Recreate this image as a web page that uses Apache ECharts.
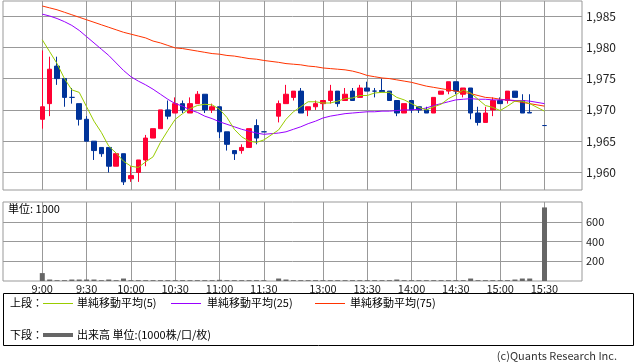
<!DOCTYPE html>
<html><head><meta charset="utf-8">
<script src="https://cdn.jsdelivr.net/npm/echarts@6/dist/echarts.min.js"></script>
<style>html,body{margin:0;padding:0;background:#fff}#c{width:638px;height:362px}</style>
</head><body><div id="c"></div>
<script>
const times = ['9:00','9:05','9:10','9:15','9:20','9:25','9:30','9:35','9:40','9:45','9:50','9:55',
 '10:00','10:05','10:10','10:15','10:20','10:25','10:30','10:35','10:40','10:45','10:50','10:55',
 '11:00','11:05','11:10','11:15','11:20','11:25','11:30','',
 '12:30','12:35','12:40','12:45','12:50','12:55',
 '13:00','13:05','13:10','13:15','13:20','13:25','13:30','13:35','13:40','13:45','13:50','13:55',
 '14:00','14:05','14:10','14:15','14:20','14:25','14:30','14:35','14:40','14:45','14:50','14:55',
 '15:00','15:05','15:10','15:15','15:20','15:25','15:30'];
const opens = [1968.5,1971,1977,1975,1972,1971,1968.5,1965,1964,1964,1961,1963,1959,1960,1962,1965.5,1967,1970,1969.5,1971,1969.5,1971,1972.5,1970,1970.5,1966.5,1963.5,1963.5,1964,1967.5,1966.5,null,
 1969,1971,1972,1973,1970,1970.5,1971,1971.5,1973,1971.5,1973,1972,1973.5,1973,1973.1,1973,1971.5,1969.5,1971.5,1970.5,1970,1969.5,1972.5,1973,1974.5,1972.5,1973.5,1969.5,1968,1970,1971.5,1971.5,1973,1971.5,1969.6,null,1967.5];
const highs = [1979.5,1978.5,1978.5,1975,1973.5,1971,1969,1965,1964,1964,1963,1963,1961,1962,1966,1967,1970,1971.5,1972,1971.5,1972,1973,1972.5,1971,1970.5,1966.5,1963.5,1964.5,1967,1968.5,1966.5,null,
 1971.5,1974,1973,1973.5,1970.5,1971.5,1971.5,1974,1973,1973.5,1973.5,1974,1974.5,1973.5,1975,1973,1971.5,1971,1971.5,1970.5,1970.5,1972,1973,1974.5,1974.5,1973.5,1973.5,1970.5,1970.5,1972,1972,1973,1973,1972.5,1972.5,null,1967.5];
const lows = [1967,1969,1974,1970.5,1971,1967.5,1965,1962,1962.5,1960,1961,1958,1958.5,1958.5,1961,1965.5,1967,1968.5,1969.5,1969.5,1969.5,1971,1969.5,1969.5,1965.5,1963.5,1962,1963,1964,1964.5,1966.5,null,
 1968,1971,1971.5,1969.5,1969,1970,1970,1971,1970.5,1971.5,1971.5,1972,1973,1972,1972.9,1971.5,1969,1969.5,1969.5,1969.5,1969.5,1969.5,1972.5,1972.5,1972.5,1972,1968.5,1967.5,1968,1969,1971,1971,1972,1969.5,1969.5,null,1967.5];
const closes = [1970.5,1976.5,1975,1972,1972,1968.5,1965,1963.5,1963,1961,1963,1958.5,1959.5,1962,1965.5,1967,1970,1969,1971,1970,1971,1972.5,1970,1970.5,1966.5,1964.5,1963,1964,1967,1965.5,1966.5,null,
 1971,1972.5,1973,1969.5,1970.5,1971,1971.5,1973,1971,1972.5,1971.5,1973.5,1973,1973,1972.9,1971.5,1969.5,1971,1970,1970,1969.5,1972,1973,1974.5,1973,1973.5,1969.5,1968,1969.5,1971.5,1971,1973,1972,1969.5,1969.5,null,1967.5];
const ma5 = [1981.2,1979.3,1977.4,1975.0,1973.2,1972.8,1970.5,1968.2,1966.4,1964.2,1963.1,1961.8,1961.0,1960.8,1961.7,1962.5,1964.8,1966.7,1968.5,1969.4,1970.2,1970.7,1970.9,1970.8,1970.1,1968.8,1966.9,1965.7,1965.0,1964.8,1965.2,null,
 1966.8,1968.5,1969.7,1970.5,1971.3,1971.3,1971.1,1971.1,1971.4,1971.8,1971.9,1972.3,1972.3,1972.7,1972.8,1972.8,1972.0,1971.6,1971.0,1970.4,1970.0,1970.5,1970.9,1971.8,1972.4,1973.2,1972.7,1971.7,1970.7,1970.4,1969.9,1970.6,1971.4,1971.4,1971.0,null,1969.8];
const ma25 = [1985.3,1985.0,1984.6,1984.1,1983.5,1982.7,1981.7,1980.7,1979.7,1978.7,1977.5,1976.3,1975.3,1974.6,1974.0,1973.3,1972.5,1971.7,1971.0,1970.6,1970.0,1969.6,1969.0,1968.6,1968.1,1967.7,1967.3,1966.9,1966.6,1966.3,1966.1,null,
 1966.3,1966.5,1966.9,1967.3,1967.8,1968.2,1968.7,1969.0,1969.2,1969.4,1969.5,1969.6,1969.7,1969.7,1969.8,1969.8,1969.9,1970.0,1970.0,1970.1,1970.3,1970.7,1971.0,1971.3,1971.6,1971.7,1971.8,1971.7,1971.7,1971.6,1971.6,1971.6,1971.5,1971.5,1971.4,null,1971.0];
const ma75 = [1986.6,1986.3,1986.0,1985.6,1985.2,1984.8,1984.4,1984.0,1983.6,1983.2,1982.8,1982.4,1982.1,1981.8,1981.5,1981.0,1980.7,1980.3,1979.9,1979.8,1979.6,1979.4,1979.2,1979.0,1978.9,1978.7,1978.6,1978.4,1978.2,1978.1,1977.9,null,
 1977.6,1977.4,1977.3,1977.2,1977.0,1976.9,1976.7,1976.6,1976.5,1976.4,1976.2,1975.9,1975.5,1975.3,1975.1,1975.0,1974.8,1974.6,1974.4,1974.1,1973.8,1973.6,1973.4,1973.2,1973.0,1972.8,1972.6,1972.3,1972.0,1971.9,1971.7,1971.6,1971.4,1971.2,1971.0,null,1970.6];
const volumes = [80,15,8,8,15,15,15,15,8,15,8,25,8,8,8,8,8,8,8,8,8,8,8,8,12,8,8,8,8,8,8,null,
 25,15,8,8,8,8,8,8,8,8,8,8,8,8,8,8,15,8,8,8,8,8,8,8,8,8,25,8,8,8,8,8,15,25,25,null,745];
const xTickIdx = [0,6,12,18,24,30,38,44,50,56,62,68];
const priceTicks = [1960,1965,1970,1975,1980,1985];
const volTicks = [200,400,600];

const FONT = '"Noto Sans CJK JP","Noto Sans",sans-serif';
const candleData = [];
times.forEach((t, i) => { if (opens[i] != null) candleData.push([i, opens[i], closes[i], lows[i], highs[i]]); });
const pairs = arr => arr.map((v, i) => v == null ? null : [i, v]).filter(Boolean);
const XMIN = -5.32, XMAX = 73.08;
const GRID = '#999';

const chart = echarts.init(document.getElementById('c'));
chart.setOption({
  animation: false,
  backgroundColor: '#fff',
  textStyle: { fontFamily: FONT },
  grid: [
    { left: 3, top: 1, width: 579, height: 189, show: true, borderColor: GRID, borderWidth: 1, backgroundColor: 'transparent' },
    { left: 3, top: 202, width: 579, height: 79, show: true, borderColor: GRID, borderWidth: 1, backgroundColor: 'transparent' }
  ],
  xAxis: [
    { type: 'value', gridIndex: 0, min: XMIN, max: XMAX, axisLine: { show: false },
      axisTick: { show: false, customValues: xTickIdx }, axisLabel: { show: false, customValues: xTickIdx },
      splitLine: { show: true, lineStyle: { color: GRID } } },
    { type: 'value', gridIndex: 1, min: XMIN, max: XMAX, axisLine: { show: false },
      axisTick: { show: false, customValues: xTickIdx },
      axisLabel: { show: true, customValues: xTickIdx, formatter: v => times[Math.round(v)], color: '#222', fontSize: 11, margin: 2 },
      splitLine: { show: true, lineStyle: { color: GRID } } }
  ],
  yAxis: [
    { type: 'value', gridIndex: 0, position: 'right', min: 1957.2, max: 1987.4, axisLine: { show: false },
      axisTick: { show: true, length: 6, customValues: priceTicks, lineStyle: { color: GRID } },
      axisLabel: { customValues: priceTicks, formatter: v => v.toLocaleString('en-US'), color: '#222', fontSize: 12, margin: 4 },
      splitLine: { show: true, lineStyle: { color: GRID } } },
    { type: 'value', gridIndex: 1, position: 'right', min: 0, max: 800, axisLine: { show: false },
      axisTick: { show: true, length: 6, customValues: volTicks, lineStyle: { color: GRID } },
      axisLabel: { customValues: volTicks, color: '#222', fontSize: 11, margin: 4 },
      splitLine: { show: true, lineStyle: { color: GRID } } }
  ],
  series: [
    { type: 'bar', xAxisIndex: 1, yAxisIndex: 1, data: pairs(volumes), barWidth: 5, itemStyle: { color: '#666' } },
    { type: 'candlestick', xAxisIndex: 0, yAxisIndex: 0, data: candleData, barWidth: 5,
      itemStyle: { color: '#ff0033', color0: '#003399', borderColor: '#ff0033', borderColor0: '#003399', borderColorDoji: '#003399', borderWidth: 1 } },
    { type: 'line', xAxisIndex: 0, yAxisIndex: 0, data: pairs(ma75), showSymbol: false, symbol: 'none', lineStyle: { color: '#ff3300', width: 1 }, z: 3 },
    { type: 'line', xAxisIndex: 0, yAxisIndex: 0, data: pairs(ma25), showSymbol: false, symbol: 'none', lineStyle: { color: '#9900ff', width: 1 }, z: 3 },
    { type: 'line', xAxisIndex: 0, yAxisIndex: 0, data: pairs(ma5), showSymbol: false, symbol: 'none', lineStyle: { color: '#99cc00', width: 1 }, z: 3 }
  ],
  graphic: [
    { type: 'text', left: 8, top: 203, style: { text: '単位: 1000', fontSize: 11, fill: '#000', fontFamily: FONT } },
    { type: 'rect', shape: { x: 3.5, y: 293.5, width: 630, height: 52 }, style: { fill: 'none', stroke: '#000', lineWidth: 1 } },
    { type: 'text', x: 10, y: 303, style: { text: '上段：', fontSize: 11, fill: '#000', verticalAlign: 'middle', fontFamily: FONT } },
    { type: 'line', shape: { x1: 43, y1: 303.5, x2: 73, y2: 303.5 }, style: { stroke: '#99cc00', lineWidth: 1 } },
    { type: 'text', x: 77, y: 303, style: { text: '単純移動平均(5)', fontSize: 11, fill: '#000', verticalAlign: 'middle', fontFamily: FONT } },
    { type: 'line', shape: { x1: 171, y1: 303.5, x2: 201, y2: 303.5 }, style: { stroke: '#9900ff', lineWidth: 1 } },
    { type: 'text', x: 207, y: 303, style: { text: '単純移動平均(25)', fontSize: 11, fill: '#000', verticalAlign: 'middle', fontFamily: FONT } },
    { type: 'line', shape: { x1: 315, y1: 303.5, x2: 345, y2: 303.5 }, style: { stroke: '#ff3300', lineWidth: 1 } },
    { type: 'text', x: 350, y: 303, style: { text: '単純移動平均(75)', fontSize: 11, fill: '#000', verticalAlign: 'middle', fontFamily: FONT } },
    { type: 'text', x: 10, y: 335, style: { text: '下段：', fontSize: 11, fill: '#000', verticalAlign: 'middle', fontFamily: FONT } },
    { type: 'line', shape: { x1: 43, y1: 335, x2: 73, y2: 335 }, style: { stroke: '#666', lineWidth: 4 } },
    { type: 'text', x: 77, y: 335, style: { text: '出来高 単位:(1000株/口/枚)', fontSize: 11, fill: '#000', verticalAlign: 'middle', fontFamily: FONT } },
    { type: 'text', x: 617, y: 356, style: { text: '(c)Quants Research Inc.', fontSize: 11, fill: '#333', align: 'right', verticalAlign: 'middle', fontFamily: FONT } }
  ]
});
</script></body></html>
